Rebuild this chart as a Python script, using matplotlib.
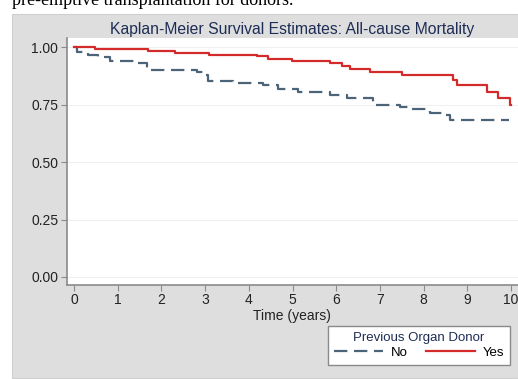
import matplotlib
matplotlib.use("Agg")
import matplotlib.pyplot as plt
from matplotlib.patches import Rectangle

plt.rcParams["font.family"] = ["Liberation Sans", "DejaVu Sans"]

# Kaplan-Meier step values
years_yes = [0, 0.48, 1.69, 2.31, 3.09, 4.19, 4.44, 4.99, 5.86, 6.13, 6.32,
             6.77, 7.51, 8.67, 8.76, 9.45, 9.70, 9.98, 10.0]
surv_yes = [1.0, 0.99, 0.983, 0.975, 0.968, 0.96, 0.95, 0.94, 0.93, 0.917, 0.906,
            0.893, 0.878, 0.857, 0.835, 0.806, 0.777, 0.75, 0.75]

years_no = [0, 0.07, 0.32, 0.55, 0.82, 1.44, 1.67, 2.81, 2.95, 3.07, 3.64,
            4.32, 4.67, 5.13, 5.86, 6.25, 6.84, 7.46, 7.64, 8.15, 8.49, 8.60, 9.95]
surv_no = [1.0, 0.98, 0.965, 0.957, 0.94, 0.93, 0.90, 0.89, 0.878, 0.853, 0.845,
           0.835, 0.816, 0.803, 0.79, 0.777, 0.75, 0.74, 0.73, 0.714, 0.704, 0.683, 0.683]

x_ticks = list(range(0, 11))
y_ticks = [0.0, 0.25, 0.5, 0.75, 1.0]
y_labels = ["0.00", "0.25", "0.50", "0.75", "1.00"]

W, H = 518, 379
fig = plt.figure(figsize=(W / 100, H / 100), dpi=100)

def fx(px):
    return px / W

def fy(py):
    return 1 - py / H

# grey graph region
fig.patches.append(Rectangle((fx(12), fy(378)), fx(518) - fx(12), fy(14) - fy(378),
                             transform=fig.transFigure, facecolor="#dedede",
                             edgecolor="#cfcfcf", lw=0.8, zorder=-5))

# cut-off sentence above the graph
fig.text(fx(12), fy(5), "pre-emptive transplantation for donors.",
         family=["Liberation Serif", "DejaVu Serif"], fontsize=13, color="black",
         va="baseline", ha="left")

ax = fig.add_axes([fx(66.7), fy(285), 1 - fx(66.7), fy(38) - fy(285)])
ax.set_zorder(2)
ax.set_facecolor("white")

ax.step(years_no, surv_no, where="post", color="#4c6478", lw=1.6,
        dashes=(6, 3), label="No")
ax.step(years_yes, surv_yes, where="post", color="#d42a2a", lw=1.6, label="Yes")

ax.set_xlim(-0.167, 10.16)
ax.set_ylim(-0.035, 1.04)
ax.set_xticks(x_ticks)
ax.set_yticks(y_ticks)
ax.set_yticklabels(y_labels)
for y in y_ticks:
    ax.axhline(y, color="#f0f0f0", lw=0.8, zorder=0)

for side in ["top", "right"]:
    ax.spines[side].set_visible(False)
for side in ["left", "bottom"]:
    ax.spines[side].set_color("#8a8a8a")
    ax.spines[side].set_linewidth(1.2)
ax.tick_params(axis="both", colors="#8a8a8a", length=4, width=0.8,
               labelcolor="#222222", labelsize=10, pad=2)

ax.set_xlabel("Time (years)", fontsize=10, color="#222222", labelpad=1)
ax.set_title("Kaplan-Meier Survival Estimates: All-cause Mortality",
             fontsize=11.3, color="#1e2d55", pad=3)

leg = fig.legend(loc="upper left", bbox_to_anchor=(fx(328), fy(326)),
                 bbox_transform=fig.transFigure, ncol=2, title="Previous Organ Donor",
                 fontsize=9.5, title_fontsize=9.5, fancybox=False, framealpha=1,
                 edgecolor="#8a8a8a", handlelength=3.7, handletextpad=0.6,
                 columnspacing=1.4, borderpad=0.45, labelspacing=0.2, borderaxespad=0)
leg.set_zorder(3)
leg.get_title().set_color("#1e2d55")
leg.get_frame().set_linewidth(1.0)

fig.savefig("out.png", dpi=100)
